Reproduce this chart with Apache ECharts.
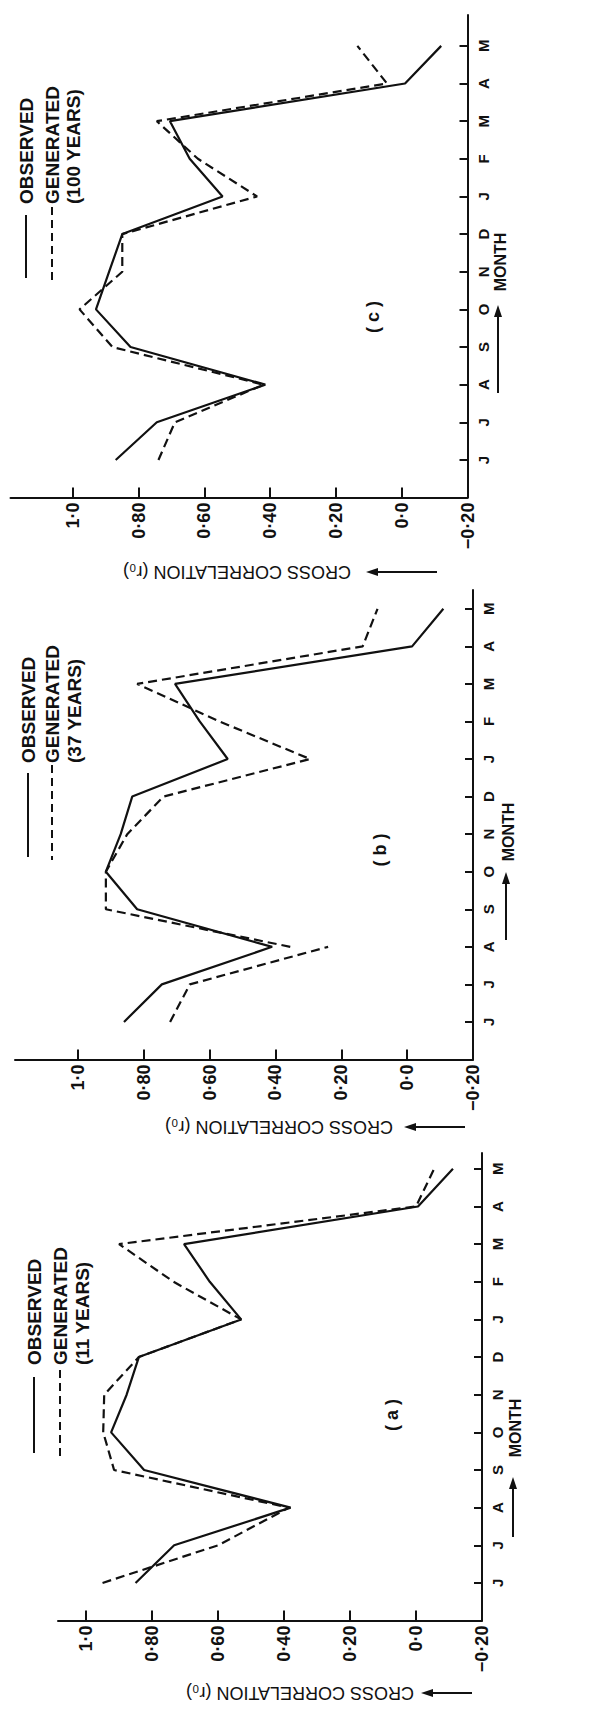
<!DOCTYPE html>
<html><head><meta charset="utf-8">
<script src="https://cdn.jsdelivr.net/npm/echarts@6/dist/echarts.min.js"></script>
<style>html,body{margin:0;padding:0;background:#fff}#chart{width:592px;height:1713px}</style>
</head><body><div id="chart"></div>
<script>
// ---- data ----
const months = ['J','J','A','S','O','N','D','J','F','M','A','M'];
const monthPositions = [1,2,3,4,5,6,7,8,9,10,11,12];
const valueTicks = [-0.2, 0, 0.2, 0.4, 0.6, 0.8, 1.0];
const valueTickLabels = ['\u22120\u00b720','0\u00b70','0\u00b720','0\u00b740','0\u00b760','0\u00b780','1\u00b70'];
const panelLabels = ['( c )','( b )','( a )'];
const legendObserved = 'OBSERVED';
const legendGenerated = 'GENERATED';
const legendYears = ['(100 YEARS)','(37 YEARS)','(11 YEARS)'];
const axisNameValue = 'CROSS CORRELATION (r\u2080)';
const axisNameMonth = 'MONTH';

// panel (c) - 100 years
const observedC  = [0.87, 0.745, 0.415, 0.825, 0.93, 0.89, 0.85, 0.545, 0.645, 0.705, -0.01, -0.12];
const generatedC = [0.74, 0.69, 0.42, 0.88, 0.98, 0.85, 0.85, 0.44, 0.62, 0.745, 0.045, 0.135];
// panel (b) - 37 years  (generated line breaks at August)
const observedB  = [0.86, 0.745, 0.41, 0.82, 0.915, 0.87, 0.835, 0.545, 0.63, 0.705, -0.015, -0.11];
const generatedB = [0.72, 0.66, [0.24, 0.355], 0.915, 0.915, 0.85, 0.74, 0.295, 0.57, 0.82, 0.135, 0.09];
// panel (a) - 11 years
const observedA  = [0.85, 0.733, 0.38, 0.824, 0.924, 0.877, 0.84, 0.53, 0.625, 0.703, -0.006, -0.112];
const generatedA = [0.95, 0.60, 0.385, 0.915, 0.948, 0.945, 0.84, 0.53, 0.735, 0.90, 0.0, -0.055];

// ---- layout ----
const FONT = "'Liberation Sans', Arial, sans-serif";
const INK = '#111';
const grids = [
  {left: 10.5, right: 124.5, top: 15,   bottom: 1215.4},
  {left: 15,   right: 119,   top: 590,  bottom: 653.5},
  {left: 58,   right: 110,   top: 1153, bottom: 92.4}
];
const xMax = [1.19, 1.191, 1.085];
const yMax = [12.82, 12.5, 12.42];
const panelSeries = [[observedC, generatedC], [observedB, generatedB], [observedA, generatedA]];

function toPoints(vals) {
  const pts = [];
  vals.forEach((v, i) => {
    if (Array.isArray(v)) {
      pts.push([v[0], monthPositions[i]]);
      pts.push(['-', '-']);
      pts.push([v[1], monthPositions[i]]);
    } else {
      pts.push([v, monthPositions[i]]);
    }
  });
  return pts;
}
function valueLabel(v) {
  for (let k = 0; k < valueTicks.length; k++) if (Math.abs(valueTicks[k] - v) < 1e-6) return valueTickLabels[k];
  return '';
}

const xAxes = [], yAxes = [], series = [];
grids.forEach((g, i) => {
  xAxes.push({
    gridIndex: i, type: 'value', inverse: true, min: -0.2, max: xMax[i],
    axisLine: {show: true, onZero: false, lineStyle: {color: INK, width: 2}},
    axisTick: {show: true, inside: true, length: 10, customValues: valueTicks, lineStyle: {color: INK, width: 2}},
    axisLabel: {customValues: valueTicks, rotate: 90, margin: 5, formatter: valueLabel,
      fontSize: 18, fontWeight: 'bold', color: INK, fontFamily: FONT},
    splitLine: {show: false}
  });
  yAxes.push({
    gridIndex: i, type: 'value', position: 'right', min: 0, max: yMax[i],
    axisLine: {show: true, onZero: false, lineStyle: {color: INK, width: 2}},
    axisTick: {show: true, inside: true, length: 8, customValues: monthPositions, lineStyle: {color: INK, width: 2}},
    axisLabel: {customValues: monthPositions, rotate: 90, margin: 8, formatter: v => months[Math.round(v) - 1] || '',
      fontSize: 15, fontWeight: 'bold', color: INK, fontFamily: FONT},
    splitLine: {show: false}
  });
  const [obs, gen] = panelSeries[i];
  series.push({type: 'line', xAxisIndex: i, yAxisIndex: i, data: toPoints(obs), symbol: 'none',
    lineStyle: {color: INK, width: 2.2}, silent: true});
  series.push({type: 'line', xAxisIndex: i, yAxisIndex: i, data: toPoints(gen), symbol: 'none',
    lineStyle: {color: INK, width: 2.2, type: [9, 5]}, silent: true});
});

// ---- annotations (rotated texts, legend keys, arrows) ----
const graphic = [];
function rtext(txt, x, y, rot, size, align, weight) {
  graphic.push({type: 'text', x: x, y: y, rotation: rot,
    style: {text: txt, fontSize: size, fontFamily: FONT, fontWeight: weight || 'bold', fill: INK,
      align: align || 'left', verticalAlign: 'middle'}});
}
function seg(x1, y1, x2, y2, dash) {
  graphic.push({type: 'line', shape: {x1, y1, x2, y2},
    style: {stroke: INK, lineWidth: 2, lineDash: dash || null}});
}
function tri(pts) {
  graphic.push({type: 'polygon', shape: {points: pts}, style: {fill: INK}});
}
const UP = Math.PI / 2;
const legendPos = [
  {x: [26, 52, 73], y: 204, solid: [215, 278], dash: [207, 282]},
  {x: [28, 52, 74], y: 763, solid: [773, 857], dash: [765, 860]},
  {x: [34, 60, 82], y: 1365, solid: [1377, 1453], dash: [1370, 1458]}
];
const panelLabelPos = [[373, 317], [380, 850], [392, 1415]];
const monthNamePos = [[500, 262, 393, 305], [508, 832, 940, 872], [515, 1428, 1537, 1477]];
const valueNamePos = [[237, 572, 437, 366], [279, 1127, 465, 404], [300, 1693, 472, 421]];

for (let i = 0; i < 3; i++) {
  const L = legendPos[i];
  seg(L.x[0], L.solid[0], L.x[0], L.solid[1]);
  rtext(legendObserved, L.x[0], L.y, UP, 19);
  seg(L.x[1], L.dash[0], L.x[1], L.dash[1], [8, 5]);
  rtext(legendGenerated, L.x[1], L.y, UP, 19);
  rtext(legendYears[i], L.x[2], L.y, UP, 19);
  rtext(panelLabels[i], panelLabelPos[i][0], panelLabelPos[i][1], UP, 18, 'center');
  const M = monthNamePos[i];
  rtext(axisNameMonth, M[0], M[1], UP, 16, 'center');
  seg(M[0] - 2, M[2], M[0] - 2, M[3] + 9);
  tri([[M[0] - 2, M[3]], [M[0] - 6, M[3] + 12], [M[0] + 2, M[3] + 12]]);
  const V = valueNamePos[i];
  rtext(axisNameValue, V[0], V[1], Math.PI, 18, 'center', 'normal');
  seg(V[2], V[1], V[3] + 9, V[1]);
  tri([[V[3], V[1]], [V[3] + 12, V[1] - 4], [V[3] + 12, V[1] + 4]]);
}

const chart = echarts.init(document.getElementById('chart'), null, {renderer: 'svg'});
chart.setOption({
  animation: false,
  backgroundColor: '#fff',
  grid: grids.map(g => Object.assign({containLabel: false}, g)),
  xAxis: xAxes,
  yAxis: yAxes,
  series: series,
  graphic: graphic
});
</script></body></html>
